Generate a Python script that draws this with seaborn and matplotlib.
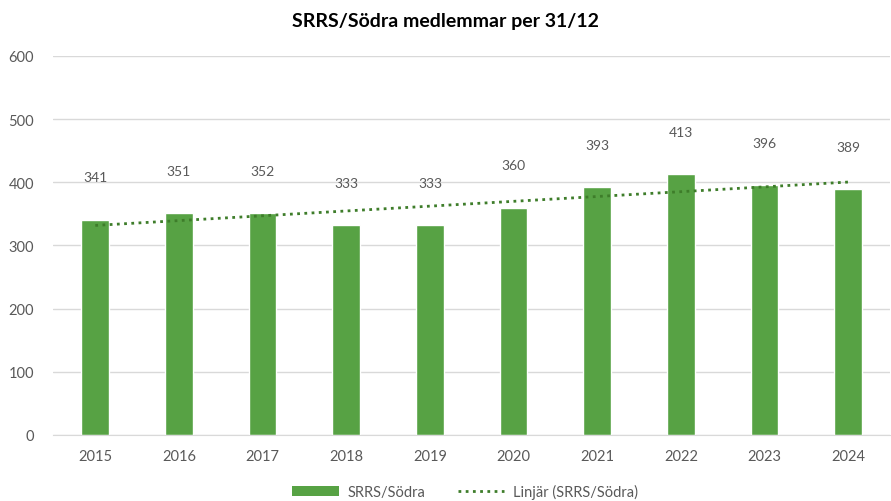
import matplotlib
matplotlib.use("Agg")
import matplotlib.pyplot as plt
import seaborn as sns
import numpy as np
import pandas as pd
from matplotlib.lines import Line2D
from matplotlib.patches import Patch

years = ["2015", "2016", "2017", "2018", "2019", "2020", "2021", "2022", "2023", "2024"]
members = [341, 351, 352, 333, 333, 360, 393, 413, 396, 389]
y_ticks = [0, 100, 200, 300, 400, 500, 600]
title = "SRRS/Södra medlemmar per 31/12"
series_name = "SRRS/Södra"
trend_name = "Linjär (SRRS/Södra)"

sns.set_style("white")
plt.rcParams['font.family'] = ['Lato', 'DejaVu Sans']

bar_color = "#57A244"
trend_color = "#3E7D2A"
text_gray = "#595959"
dot_style = (0, (1, 1.6))

df = pd.DataFrame({"year": years, "members": members, "pos": np.arange(len(years))})

fig = plt.figure(figsize=(8.91, 5.02), dpi=100)
ax = fig.add_axes([0.06, 0.1315, 0.939, 0.755])

sns.barplot(data=df, x="year", y="members", color=bar_color, width=0.33,
            saturation=1, ax=ax, zorder=2)
sns.regplot(data=df, x="pos", y="members", scatter=False, ci=None, ax=ax,
            line_kws=dict(color=trend_color, linestyle=dot_style, linewidth=2, zorder=3))

for i, v in enumerate(members):
    ax.annotate(str(v), (i, v), xytext=(0, 26), textcoords="offset points",
                ha="center", va="bottom", fontsize=10, color=text_gray, zorder=4)

ax.set_ylim(0, 600)
ax.set_xlim(-0.5, len(years) - 0.5)
ax.set_yticks(y_ticks)
ax.set_xticks(range(len(years)))
ax.set_xticklabels(years)
ax.set_xlabel("")
ax.set_ylabel("")
ax.grid(axis="y", color="#D9D9D9", linewidth=1, zorder=0)
ax.set_axisbelow(True)
for s in ["top", "right", "left"]:
    ax.spines[s].set_visible(False)
ax.spines["bottom"].set_color("#D9D9D9")
ax.tick_params(axis="both", length=0, labelsize=10.5, colors=text_gray)
ax.tick_params(axis="x", pad=10)
ax.tick_params(axis="y", pad=14)

fig.text(0.5, 0.958, title, ha="center", va="center", fontsize=14, fontweight="bold", color="black")

handles = [Patch(facecolor=bar_color, edgecolor="none"),
           Line2D([0], [0], color=trend_color, linestyle=dot_style, linewidth=2)]
fig.legend(handles, [series_name, trend_name], loc="center", bbox_to_anchor=(0.522, 0.018),
           ncol=2, frameon=False, fontsize=10.5, labelcolor=text_gray,
           handlelength=3.2, columnspacing=2.2, handletextpad=0.6, handleheight=0.7)

fig.savefig("out.png", dpi=100)
